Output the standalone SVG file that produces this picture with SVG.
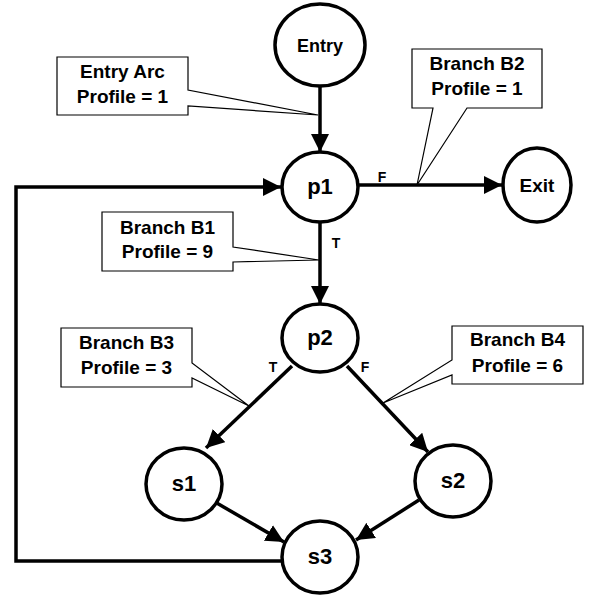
<svg xmlns="http://www.w3.org/2000/svg" width="592" height="595" viewBox="0 0 592 595">
<style>
.node{fill:#fff;stroke:#000;stroke-width:3.5}
.nl{font-family:"Liberation Sans",Arial,sans-serif;font-weight:bold;font-size:22px;text-anchor:middle;fill:#000}
.edge{fill:none;stroke:#000;stroke-width:3.5}
.call{fill:#fff;stroke:#000;stroke-width:1.2}
.ct{font-family:"Liberation Sans",Arial,sans-serif;font-weight:bold;font-size:19px;text-anchor:middle;fill:#000}
.el{font-family:"Liberation Sans",Arial,sans-serif;font-weight:bold;font-size:14px;text-anchor:middle;fill:#000}
</style>
<defs>
<marker id="arr" markerUnits="userSpaceOnUse" markerWidth="18" markerHeight="18" refX="16" refY="8" orient="auto" viewBox="0 0 16 16">
<path d="M0,0 L16,8 L0,16 z" fill="#000"/>
</marker>
</defs>
<g id="connectors">
<line class="edge" x1="320" y1="86" x2="320" y2="152" marker-end="url(#arr)"/>
<line class="edge" x1="358" y1="185" x2="502" y2="185" marker-end="url(#arr)"/>
<line class="edge" x1="320" y1="222" x2="320" y2="304" marker-end="url(#arr)"/>
<line class="edge" x1="292" y1="366" x2="206" y2="448" marker-end="url(#arr)"/>
<line class="edge" x1="347" y1="366" x2="428" y2="452" marker-end="url(#arr)"/>
<line class="edge" x1="215" y1="502" x2="284" y2="542" marker-end="url(#arr)"/>
<line class="edge" x1="419" y1="500" x2="356" y2="540" marker-end="url(#arr)"/>
<polyline class="edge" points="282,561 16,561 16,187 281,187" marker-end="url(#arr)"/>
<text class="el" x="382" y="182">F</text>
<text class="el" x="336" y="248">T</text>
<text class="el" x="273" y="372">T</text>
<text class="el" x="365" y="372">F</text>
</g>
<g id="entry"><ellipse class="node" cx="320" cy="45" rx="45" ry="41"/><text class="nl" style="font-size:18px" x="320" y="52">Entry</text></g>
<g id="p1"><ellipse class="node" cx="320" cy="187" rx="38" ry="35"/><text class="nl" x="320" y="194">p1</text></g>
<g id="exit"><ellipse class="node" cx="537" cy="185" rx="34" ry="37"/><text class="nl" style="font-size:19px" x="537" y="192">Exit</text></g>
<g id="p2"><ellipse class="node" cx="320" cy="338" rx="38" ry="34"/><text class="nl" x="320" y="345">p2</text></g>
<g id="s1"><ellipse class="node" cx="184" cy="484" rx="38" ry="36"/><text class="nl" x="184" y="491">s1</text></g>
<g id="s2"><ellipse class="node" cx="453" cy="481" rx="38" ry="36"/><text class="nl" x="453" y="488">s2</text></g>
<g id="s3"><ellipse class="node" cx="320" cy="557" rx="38" ry="36"/><text class="nl" x="320" y="564">s3</text></g>
<g id="callout-entry-arc">
<polygon class="call" points="57,57 188,57 188,90 318,115 188,106 188,115 57,115"/>
<text class="ct" x="122.5" y="78">Entry Arc</text>
<text class="ct" x="122.5" y="103">Profile = 1</text>
</g>
<g id="callout-b2">
<polygon class="call" points="412,49 542,49 542,108 467,108 417,185 433,108 412,108"/>
<text class="ct" x="477" y="70">Branch B2</text>
<text class="ct" x="477" y="95">Profile = 1</text>
</g>
<g id="callout-b1">
<polygon class="call" points="102,212 233,212 233,247 319,260 233,262 233,271 102,271"/>
<text class="ct" x="167.5" y="234">Branch B1</text>
<text class="ct" x="167.5" y="258">Profile = 9</text>
</g>
<g id="callout-b3">
<polygon class="call" points="61,328 192,328 192,363 249,406 192,378 192,387 61,387"/>
<text class="ct" x="126.5" y="349">Branch B3</text>
<text class="ct" x="126.5" y="374">Profile = 3</text>
</g>
<g id="callout-b4">
<polygon class="call" points="452,326 583,326 583,384 452,384 452,375 383,403 452,360"/>
<text class="ct" x="517.5" y="346">Branch B4</text>
<text class="ct" x="517.5" y="372">Profile = 6</text>
</g>
</svg>
